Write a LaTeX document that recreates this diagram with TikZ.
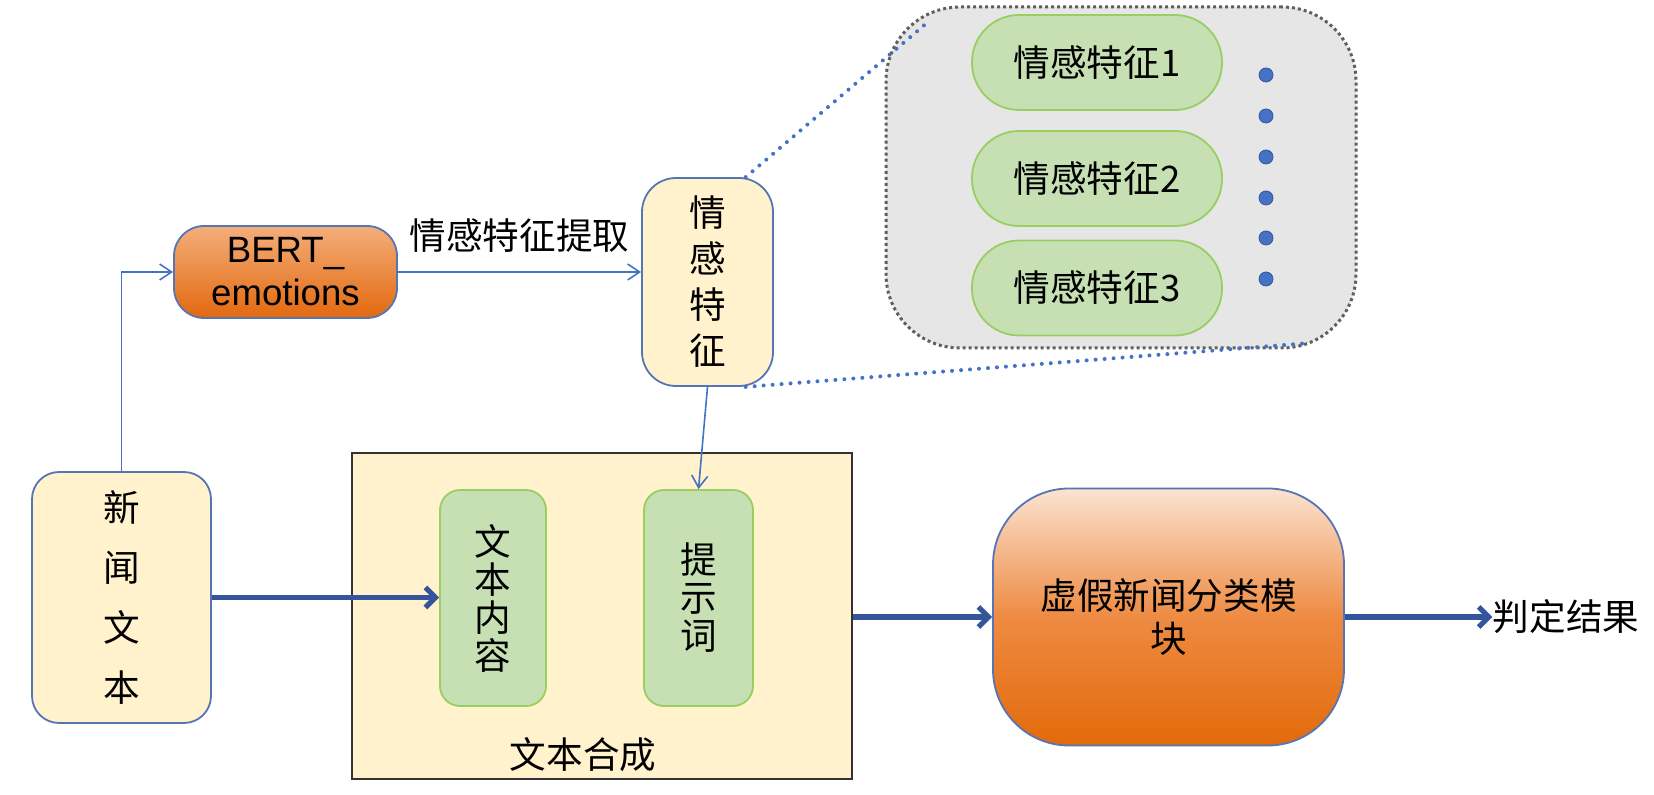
\documentclass[tikz,border=0pt]{standalone}
\usepackage{fontspec}
\setmainfont{Noto Sans CJK SC}
\newfontfamily\arialfont{Liberation Sans}
\usetikzlibrary{arrows.meta}

\definecolor{lineblue}{HTML}{4472C4}
\definecolor{darkblue}{HTML}{34559C}
\definecolor{boxblue}{HTML}{5575B5}
\definecolor{paleyellow}{HTML}{FFF2CC}
\definecolor{leaffill}{HTML}{C6E0B4}
\definecolor{leafline}{HTML}{9ACD62}
\definecolor{zoomfill}{HTML}{E6E6E6}
\definecolor{zoomline}{HTML}{5F5F5F}
\definecolor{bertTop}{HTML}{F4AE7A}
\definecolor{bertBot}{HTML}{E2690F}
\definecolor{clsTop}{HTML}{FBE3D1}
\definecolor{clsMid}{HTML}{EE8B42}
\definecolor{clsBot}{HTML}{E36A0B}

\tikzset{
  thinarrow/.style={draw=lineblue, line width=0.8pt, -{Straight Barb[length=6pt,width=8pt]}},
  thickarrow/.style={draw=darkblue, line width=2.6pt, -{Straight Barb[length=5pt,width=10pt]}},
  yellowbox/.style={draw=boxblue, line width=0.9pt, fill=paleyellow, align=center},
  greenbox/.style={draw=leafline, line width=0.9pt, fill=leaffill, align=center},
  orangebox/.style={draw=boxblue, line width=0.9pt, align=center},
  pill/.style={greenbox, minimum width=125pt, minimum height=47.5pt, rounded corners=23.5pt},
  zoombox/.style={draw=zoomline, fill=zoomfill, line width=1.5pt, dash pattern=on 1.5pt off 1.5pt,
    minimum width=235pt, minimum height=170.5pt, rounded corners=37pt},
  zoomdots/.style={draw=lineblue, line width=2pt, line cap=round, dash pattern=on 0pt off 4.5pt},
  dotmark/.style={fill=lineblue, draw=darkblue, line width=0.4pt},
  mergebox/.style={draw=black!80, line width=0.8pt, fill=paleyellow, minimum width=250pt, minimum height=163pt}
}

\begin{document}
\begin{tikzpicture}[x=0.5pt, y=-0.5pt, font=\fontsize{18.3pt}{22pt}\selectfont]
  \useasboundingbox (0,0) rectangle (1654,795);

  \node[zoombox] (zoom) at (1121,177.5) {};
  \node[pill] (emo1) at (1097,62.5) {情感特征1};
  \node[pill] (emo2) at (1097,178.5) {情感特征2};
  \node[pill] (emo3) at (1097,288) {情感特征3};
  \foreach \y in {75,116,157,198,238,279}
    \path[dotmark] (1266,\y) circle (3.5pt);

  \node[yellowbox, minimum width=89.5pt, minimum height=125.5pt, rounded corners=13.5pt,
    font=\fontsize{18.3pt}{30pt}\selectfont] (news) at (121.5,597.5) {新\\闻\\文\\本};
  \node[orangebox, top color=bertTop, bottom color=bertBot, minimum width=111.5pt, minimum height=46pt,
    rounded corners=15pt, font={\arialfont\fontsize{18.3pt}{21.5pt}\selectfont}] (bert) at (285.5,272) {BERT\_\\emotions};
  \node[yellowbox, minimum width=65.5pt, minimum height=104pt, rounded corners=17pt,
    font=\fontsize{18.3pt}{23pt}\selectfont] (feat) at (707.5,282) {情\\感\\特\\征};

  \node[mergebox] (merge) at (602,616) {};
  \node (mergename) at (583,755) {文本合成};
  \node[greenbox, minimum width=53pt, minimum height=108pt, rounded corners=10pt,
    font=\fontsize{18.3pt}{19pt}\selectfont] (content) at (493,598) {文\\本\\内\\容};
  \node[greenbox, minimum width=54.5pt, minimum height=108pt, rounded corners=10pt,
    font=\fontsize{18.3pt}{19pt}\selectfont] (prompt) at (698.5,598) {提\\示\\词};

  \node[orangebox, top color=clsTop, bottom color=clsBot, middle color=clsMid, minimum width=175.5pt,
    minimum height=128.5pt, rounded corners=38pt, font=\fontsize{18.3pt}{21.5pt}\selectfont] (cls) at (1168.5,617) {虚假新闻分类模\\块};
  \node[inner sep=0pt] (result) at (1566,617) {判定结果};

  \draw[thinarrow] (news.north) |- (bert.west);
  \draw[thinarrow] (bert.east) -- (bert.east -| feat.west) node[midway, above=6pt] {情感特征提取};
  \draw[thinarrow] (feat.south) -- (prompt.north);
  \draw[thickarrow] (news.east) -- (news.east -| content.west);
  \draw[thickarrow] (cls.west -| merge.east) -- (cls.west);
  \draw[thickarrow] (cls.east) -- (cls.east -| result.west);

  \coordinate (zoomtop) at (928,22);
  \coordinate (zoombot) at (1310,343);
  \draw[zoomdots] (feat.70) -- (zoomtop);
  \draw[zoomdots] (feat.-70) -- (zoombot);
\end{tikzpicture}
\end{document}
